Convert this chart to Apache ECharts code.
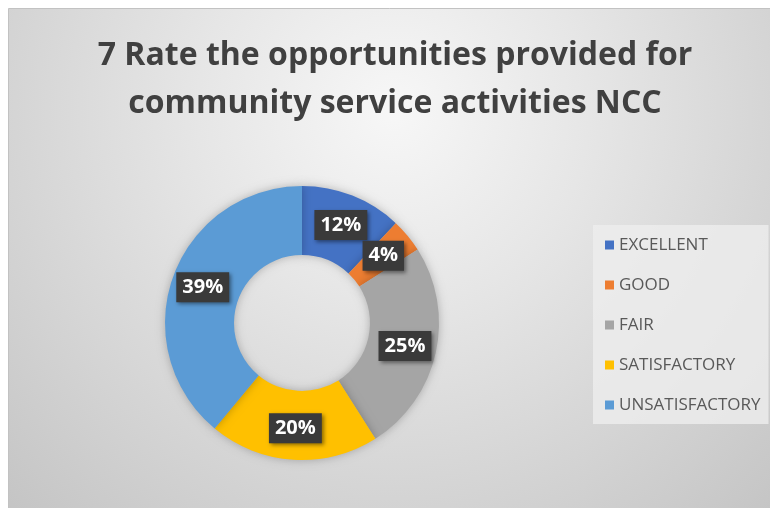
<!DOCTYPE html>
<html>
<head>
<meta charset="utf-8">
<title>Community service opportunities – NCC</title>
<script src="https://cdn.jsdelivr.net/npm/echarts@6/dist/echarts.min.js"></script>
<style>
  html, body { margin: 0; padding: 0; background: #ffffff; }
  #chart { width: 770px; height: 508px; }
</style>
</head>
<body>
<div id="chart"></div>
<script>
// Survey question 7: share of responses per rating
const titleText = '7 Rate the opportunities provided for\ncommunity service activities NCC';
const ratings = ['EXCELLENT', 'GOOD', 'FAIR', 'SATISFACTORY', 'UNSATISFACTORY'];
const shares = [12, 4, 25, 20, 39];
const sliceColors = ['#4472C4', '#ED7D31', '#A5A5A5', '#FFC000', '#5B9BD5'];

const uiFont = '"Open Sans", "Noto Sans", sans-serif';

const chart = echarts.init(document.getElementById('chart'), null, { renderer: 'canvas' });

chart.setOption({
  backgroundColor: '#ffffff',
  animation: false,
  color: sliceColors,
  graphic: [{
    type: 'rect',
    z: -10,
    silent: true,
    shape: { x: 8.5, y: 8.5, width: 770, height: 508 },
    style: {
      fill: {
        type: 'radial', x: 0.5, y: 0.2, r: 1.1,
        colorStops: [
          { offset: 0, color: '#f7f7f7' },
          { offset: 0.35, color: '#e6e6e6' },
          { offset: 1, color: '#c4c4c4' }
        ]
      },
      stroke: '#c2c2c2',
      lineWidth: 1
    }
  }],
  title: {
    text: titleText,
    left: 395,
    top: 32,
    padding: 0,
    textAlign: 'center',
    textStyle: {
      fontFamily: uiFont,
      fontSize: 32,
      fontWeight: 'bold',
      color: '#404040',
      lineHeight: 48
    }
  },
  legend: {
    orient: 'vertical',
    left: 593,
    top: 225,
    padding: [11, 8, 10, 12],
    backgroundColor: 'rgba(238,238,238,0.8)',
    icon: 'rect',
    itemWidth: 9,
    itemHeight: 9,
    itemGap: 22,
    data: ratings,
    textStyle: {
      fontFamily: uiFont,
      fontSize: 17,
      lineHeight: 18,
      color: '#595959'
    }
  },
  series: [{
    type: 'pie',
    center: [302, 323],
    radius: [68, 137],
    startAngle: 90,
    clockwise: true,
    avoidLabelOverlap: false,
    itemStyle: {
      shadowBlur: 10,
      shadowColor: 'rgba(0,0,0,0.25)'
    },
    label: {
      show: true,
      position: 'inside',
      formatter: p => p.value + '%',
      fontFamily: uiFont,
      fontSize: 20,
      fontWeight: 'bold',
      color: '#ffffff',
      backgroundColor: '#3a3a3a',
      padding: [6, 6, 4, 6],
      shadowBlur: 4,
      shadowOffsetX: 2,
      shadowOffsetY: 2,
      shadowColor: 'rgba(0,0,0,0.45)'
    },
    labelLine: { show: false },
    emphasis: { disabled: true },
    data: ratings.map((name, i) => ({ name, value: shares[i] }))
  }]
});
</script>
</body>
</html>
